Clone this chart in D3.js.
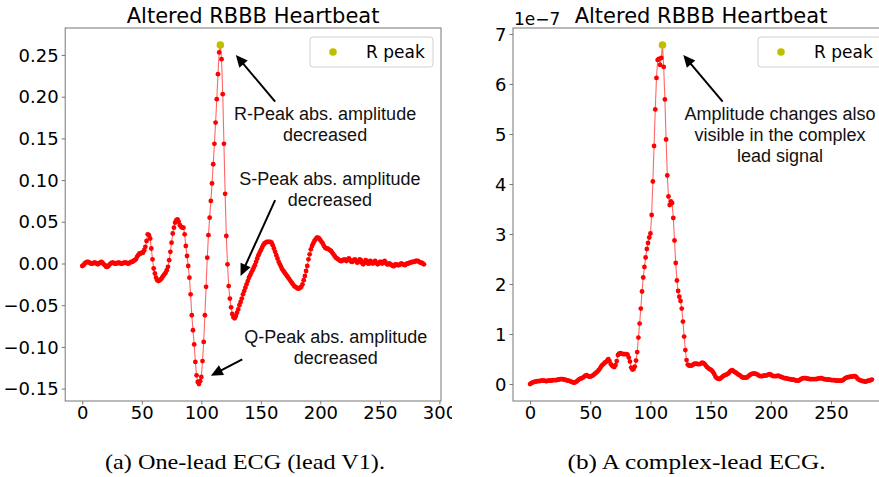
<!DOCTYPE html>
<meta charset="utf-8">

<script src="https://d3js.org/d3.v7.min.js"></script>

<style type="text/css">

body {
    margin: 0;
    background: #fff;
}

.axis path {
    display: none;
}

.axis line {
    stroke: #777;
}

.axis text {
    font-family: "DejaVu Sans", sans-serif;
    font-size: 18px;
    fill: #000;
}

.title {
    font-family: "DejaVu Sans", sans-serif;
    font-size: 21px;
    text-anchor: middle;
}

.note {
    font-family: "Liberation Sans", Arial, sans-serif;
    font-size: 18px;
    text-anchor: middle;
    fill: #111;
}

.caption {
    font-family: "Liberation Serif", serif;
    font-size: 22px;
    text-anchor: middle;
}

</style>

<body>
</body>

<script>

// one-lead ECG (lead V1), one value per sample
var leadV1 = [
  -0.003,-0.002,0.000,0.001,0.002,0.002,0.001,0.000,0.000,0.000,
  0.001,0.001,0.000,-0.001,0.000,0.001,0.002,0.001,-0.001,-0.002,
  -0.004,-0.004,-0.003,-0.001,0.000,0.001,0.001,0.000,0.000,0.000,
  0.001,0.001,0.000,0.000,0.000,0.001,0.001,0.001,0.000,0.000,
  0.001,0.002,0.002,0.003,0.004,0.005,0.008,0.010,0.012,0.012,
  0.013,0.013,0.016,0.020,0.027,0.035,0.034,0.030,0.018,0.005,
  -0.006,-0.012,-0.017,-0.020,-0.021,-0.020,-0.019,-0.017,-0.015,-0.013,
  -0.011,-0.008,-0.004,0.004,0.014,0.025,0.036,0.043,0.049,0.052,
  0.053,0.050,0.046,0.044,0.043,0.043,0.035,0.021,0.009,-0.003,
  -0.017,-0.037,-0.062,-0.080,-0.097,-0.118,-0.134,-0.142,-0.1445,-0.141,
  -0.136,-0.117,-0.094,-0.062,-0.028,0.007,0.034,0.055,0.075,0.096,
  0.119,0.1435,0.169,0.197,0.227,0.253,0.262,0.245,0.203,0.1435,
  0.0835,0.033,-0.001,-0.027,-0.042,-0.0525,-0.0605,-0.0645,-0.0656,-0.063,
  -0.059,-0.055,-0.050,-0.046,-0.042,-0.037,-0.033,-0.029,-0.025,-0.021,
  -0.017,-0.014,-0.011,-0.008,-0.005,-0.002,0.002,0.006,0.010,0.013,
  0.016,0.019,0.022,0.024,0.025,0.026,0.026,0.026,0.026,0.025,
  0.022,0.018,0.014,0.010,0.006,0.002,-0.001,-0.004,-0.007,-0.009,
  -0.011,-0.013,-0.015,-0.017,-0.019,-0.021,-0.023,-0.025,-0.027,-0.028,
  -0.029,-0.030,-0.030,-0.029,-0.028,-0.025,-0.020,-0.015,-0.009,-0.003,
  0.005,0.011,0.017,0.021,0.024,0.027,0.029,0.031,0.031,0.030,
  0.028,0.026,0.024,0.021,0.019,0.018,0.018,0.017,0.016,0.015,
  0.013,0.011,0.009,0.007,0.006,0.005,0.004,0.003,0.003,0.004,
  0.005,0.004,0.003,0.005,0.006,0.004,0.002,0.002,0.004,0.005,
  0.003,0.001,0.002,0.005,0.004,0.001,-0.001,0.001,0.004,0.003,
  0.000,0.000,0.003,0.002,0.000,0.001,0.003,0.001,-0.001,0.000,
  0.002,0.002,0.000,0.001,0.003,0.001,-0.001,-0.001,0.000,-0.001,
  -0.002,-0.003,-0.003,-0.001,-0.001,-0.002,-0.002,-0.001,0.000,-0.001,
  -0.001,-0.002,-0.001,0.000,0.000,0.001,0.001,0.002,0.002,0.002,
  0.003,0.003,0.003,0.002,0.001,0.001,0.000,-0.001
];

// complex-lead ECG, in units of 1e-7
var complexLead = [
  0.00,0.02,0.03,0.04,0.05,0.05,0.06,0.06,0.06,0.07,
  0.07,0.07,0.07,0.06,0.06,0.07,0.07,0.07,0.07,0.08,
  0.08,0.08,0.08,0.09,0.09,0.10,0.10,0.10,0.09,0.09,
  0.08,0.07,0.07,0.06,0.05,0.04,0.03,0.03,0.04,0.06,
  0.08,0.10,0.11,0.12,0.13,0.15,0.17,0.18,0.16,0.15,
  0.15,0.16,0.17,0.19,0.21,0.23,0.25,0.28,0.31,0.35,
  0.38,0.40,0.43,0.44,0.47,0.50,0.46,0.40,0.37,0.35,
  0.34,0.38,0.46,0.58,0.61,0.62,0.61,0.60,0.60,0.60,
  0.60,0.59,0.53,0.45,0.33,0.29,0.30,0.35,0.47,0.64,
  0.93,1.21,1.51,1.85,2.13,2.34,2.53,2.70,2.82,2.93,
  3.01,3.38,4.05,4.76,5.49,6.12,6.48,6.50,6.38,6.52,
  6.78,6.34,5.69,4.89,4.17,3.75,3.58,3.65,3.62,3.32,
  2.87,2.42,2.07,1.86,1.745,1.66,1.51,1.25,0.95,0.68,
  0.48,0.39,0.37,0.37,0.37,0.38,0.40,0.41,0.41,0.40,
  0.40,0.40,0.41,0.43,0.42,0.40,0.37,0.34,0.32,0.30,
  0.29,0.27,0.24,0.20,0.15,0.12,0.11,0.10,0.11,0.13,
  0.15,0.17,0.18,0.19,0.20,0.22,0.25,0.27,0.28,0.26,
  0.24,0.23,0.21,0.19,0.18,0.16,0.14,0.13,0.13,0.13,
  0.13,0.15,0.17,0.19,0.20,0.21,0.21,0.21,0.20,0.19,
  0.17,0.16,0.16,0.16,0.17,0.17,0.17,0.18,0.19,0.20,
  0.19,0.17,0.16,0.16,0.16,0.16,0.17,0.16,0.15,0.14,
  0.13,0.12,0.12,0.11,0.11,0.10,0.10,0.09,0.09,0.09,
  0.08,0.07,0.07,0.07,0.08,0.10,0.11,0.12,0.12,0.12,
  0.11,0.11,0.10,0.10,0.10,0.10,0.10,0.10,0.10,0.11,
  0.11,0.12,0.12,0.11,0.10,0.10,0.09,0.09,0.09,0.09,
  0.08,0.08,0.08,0.08,0.07,0.07,0.07,0.07,0.07,0.07,
  0.08,0.10,0.12,0.13,0.14,0.14,0.15,0.15,0.15,0.16,
  0.16,0.14,0.11,0.09,0.08,0.07,0.06,0.06,0.05,0.05,
  0.06,0.07,0.07,0.08,0.09
];

// sample index of the R peak in each signal
var v1Peak = [116];
var complexPeak = [110];

var xTicksV1 = [0, 50, 100, 150, 200, 250, 300];
var xTicksComplex = [0, 50, 100, 150, 200, 250];
var yTicksV1 = [-0.15, -0.10, -0.05, 0.00, 0.05, 0.10, 0.15, 0.20, 0.25];
var yTicksComplex = [0, 1, 2, 3, 4, 5, 6, 7];

var titleText = 'Altered RBBB Heartbeat';
var legendText = 'R peak';
var captions = ['(a) One-lead ECG (lead V1).', '(b) A complex-lead ECG.'];

// annotations: text anchor and arrow tail/tip in data units
var v1Notes = [
  {lines: ['R-Peak abs. amplitude', 'decreased'], at: [204, 0.172], from: [162, 0.194], to: [129, 0.250]},
  {lines: ['S-Peak abs. amplitude', 'decreased'], at: [208, 0.094], from: [162, 0.076], to: [133, -0.015]},
  {lines: ['Q-Peak abs. amplitude', 'decreased'], at: [213, -0.095], from: [134.4, -0.115], to: [108, -0.1345]}
];
var complexNotes = [
  {lines: ['Amplitude changes also', 'visible in the complex', 'lead signal'], at: [207.6, 5.28], from: [160, 5.645], to: [127.3, 6.58]}
];

var width = 879, height = 477;
var axTop = 28, axBottom = 401;
var red = '#ff0000', yellow = '#bfbf00', spine = '#777';

var svg = d3.select('body').append('svg')
    .attr('width', width)
    .attr('height', height);

svg.append('defs').append('clipPath')
    .attr('id', 'leftClip')
    .append('rect')
    .attr('x', 0).attr('y', 0)
    .attr('width', 452).attr('height', height);

function padded(ext) {
    var m = (ext[1] - ext[0]) * 0.05;
    return [ext[0] - m, ext[1] + m];
}

function arrow(g, x1, y1, x2, y2) {
    var dx = x2 - x1, dy = y2 - y1;
    var len = Math.sqrt(dx * dx + dy * dy);
    var ux = dx / len, uy = dy / len;
    var hl = 12, hw = 5.5;
    var bx = x2 - ux * hl, by = y2 - uy * hl;

    g.append('line')
        .attr('x1', x1).attr('y1', y1)
        .attr('x2', bx + ux).attr('y2', by + uy)
        .attr('stroke', '#000')
        .attr('stroke-width', 2);

    g.append('path')
        .attr('d', 'M' + x2 + ',' + y2 +
            'L' + (bx - uy * hw) + ',' + (by + ux * hw) +
            'L' + (bx + uy * hw) + ',' + (by - ux * hw) + 'Z')
        .attr('fill', '#000');
}

function drawPanel(g, p) {
    var series = p.values.map(function(v, i) { return {i: i, v: v}; });

    var xScale = d3.scaleLinear()
        .domain(padded([0, series.length - 1]))
        .range([p.left, p.right]);

    var yScale = d3.scaleLinear()
        .domain(padded(d3.extent(p.values)))
        .range([axBottom, axTop]);

    var xAxis = d3.axisBottom(xScale)
        .tickValues(p.xTicks)
        .tickFormat(d3.format('d'))
        .tickSize(3.5)
        .tickPadding(2);

    var yAxis = d3.axisLeft(yScale)
        .tickValues(p.yTicks)
        .tickFormat(p.yFormat)
        .tickSize(3.5)
        .tickPadding(3);

    g.append('g')
        .attr('class', 'x axis')
        .attr('transform', 'translate(0,' + axBottom + ')')
        .call(xAxis);

    g.append('g')
        .attr('class', 'y axis')
        .attr('transform', 'translate(' + p.left + ',0)')
        .call(yAxis)
        .selectAll('text')
        .attr('dy', '0.34em');

    // signal: thin line plus dot markers
    var line = d3.line()
        .x(function(d) { return xScale(d.i); })
        .y(function(d) { return yScale(d.v); });

    g.append('path')
        .datum(series)
        .attr('d', line)
        .attr('fill', 'none')
        .attr('stroke', red)
        .attr('stroke-opacity', 0.6)
        .attr('stroke-width', 1.1);

    g.selectAll('.dot')
        .data(series)
        .enter()
        .append('circle')
        .attr('class', 'dot')
        .attr('cx', function(d) { return xScale(d.i); })
        .attr('cy', function(d) { return yScale(d.v); })
        .attr('r', 2.4)
        .attr('fill', red);

    g.selectAll('.peak')
        .data(p.peaks)
        .enter()
        .append('circle')
        .attr('class', 'peak')
        .attr('cx', function(d) { return xScale(d); })
        .attr('cy', function(d) { return yScale(p.values[d]); })
        .attr('r', 3.8)
        .attr('fill', yellow);

    // frame
    g.append('rect')
        .attr('x', p.left)
        .attr('y', axTop)
        .attr('width', p.right - p.left)
        .attr('height', axBottom - axTop)
        .attr('fill', 'none')
        .attr('stroke', spine)
        .attr('stroke-width', 1);

    g.append('text')
        .attr('class', 'title')
        .attr('x', (p.left + p.right) / 2)
        .attr('y', 23)
        .text(titleText);

    // legend
    var lx = p.right - 8 - 123, ly = axTop + 9;
    g.append('rect')
        .attr('x', lx).attr('y', ly)
        .attr('width', 123).attr('height', 30)
        .attr('rx', 3)
        .attr('fill', '#fff')
        .attr('fill-opacity', 0.8)
        .attr('stroke', '#d0d0d0');
    g.append('circle')
        .attr('cx', lx + 23).attr('cy', ly + 15)
        .attr('r', 3.8)
        .attr('fill', yellow);
    g.append('text')
        .attr('x', lx + 56).attr('y', ly + 15)
        .attr('dy', '0.35em')
        .style('font-family', '"DejaVu Sans", sans-serif')
        .style('font-size', '17px')
        .text(legendText);

    p.notes.forEach(function(n) {
        arrow(g, xScale(n.from[0]), yScale(n.from[1]), xScale(n.to[0]), yScale(n.to[1]));
        var t = g.append('text')
            .attr('class', 'note')
            .attr('x', xScale(n.at[0]))
            .attr('y', yScale(n.at[1]));
        n.lines.forEach(function(s, k) {
            t.append('tspan')
                .attr('x', xScale(n.at[0]))
                .attr('dy', k === 0 ? 0 : 21)
                .text(s);
        });
    });

    if (p.offset) {
        g.append('text')
            .attr('x', p.left + 1)
            .attr('y', 25)
            .style('font-family', '"DejaVu Sans", sans-serif')
            .style('font-size', '17px')
            .text(p.offset);
    }
}

var leftPanel = svg.append('g').attr('clip-path', 'url(#leftClip)');
drawPanel(leftPanel, {
    values: leadV1, peaks: v1Peak,
    left: 65.2, right: 441,
    xTicks: xTicksV1, yTicks: yTicksV1,
    yFormat: d3.format('.2f'),
    notes: v1Notes
});

var rightPanel = svg.append('g');
drawPanel(rightPanel, {
    values: complexLead, peaks: complexPeak,
    left: 513, right: 889,
    xTicks: xTicksComplex, yTicks: yTicksComplex,
    yFormat: d3.format('d'),
    notes: complexNotes,
    offset: '1e\u22127'
});

svg.selectAll('.caption')
    .data(captions)
    .enter()
    .append('text')
    .attr('class', 'caption')
    .attr('x', function(d, i) { return i === 0 ? 245 : 696.5; })
    .attr('y', 468.5)
    .attr('textLength', function(d, i) { return i === 0 ? 280 : 258; })
    .attr('lengthAdjust', 'spacingAndGlyphs')
    .text(function(d) { return d; });

</script>
